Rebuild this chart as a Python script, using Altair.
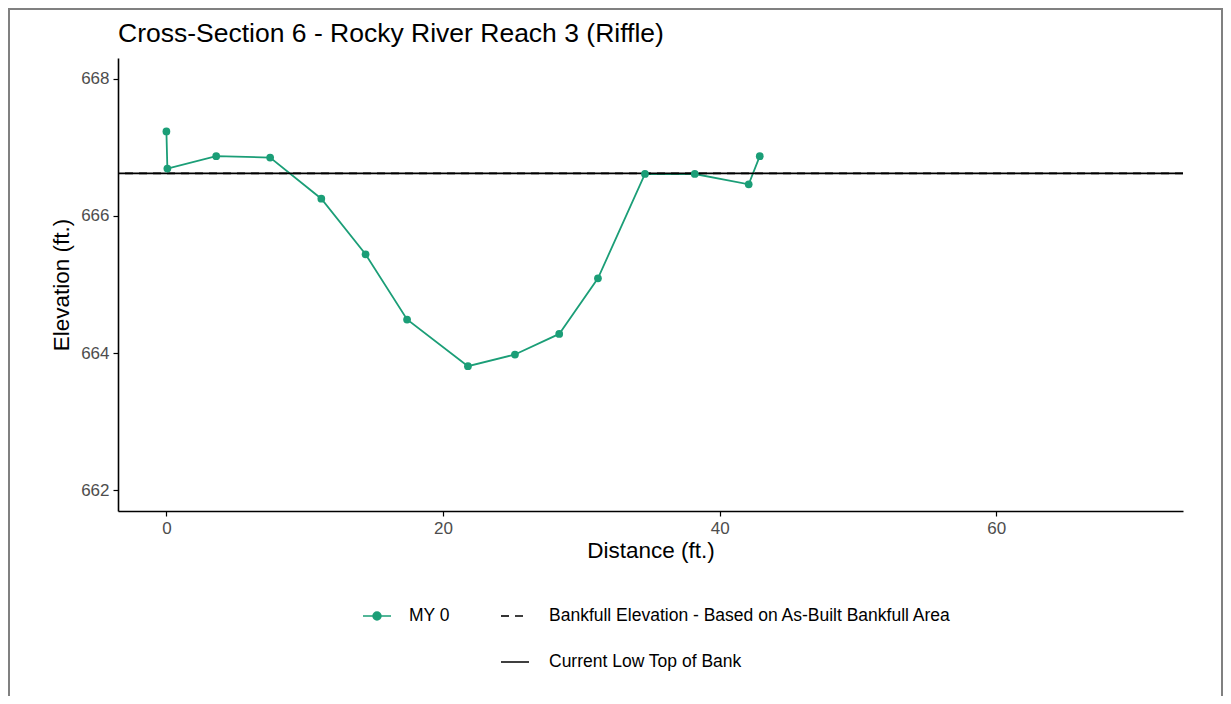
import altair as alt
import pandas as pd

# ---- data ----
distance = [0.0, 0.07, 3.6, 7.5, 11.2, 14.4, 17.4, 21.8, 25.2, 28.4, 31.2, 34.6, 38.2, 42.1, 42.9]
elevation = [667.23, 666.69, 666.87, 666.85, 666.25, 665.44, 664.49, 663.81, 663.98, 664.28,
             665.09, 666.61, 666.61, 666.46, 666.87]
survey = ["MY 0"] * len(distance)

line_types = ["Bankfull Elevation - Based on As-Built Bankfull Area", "Current Low Top of Bank"]
line_elev = [666.62, 666.62]

x_ticks = [0, 20, 40, 60]
y_ticks = [662, 664, 666, 668]

FONT = "Liberation Sans"
GREEN = "#1B9E77"

xs = pd.DataFrame({"distance": distance, "elevation": elevation, "survey": survey,
                   "order": list(range(len(distance)))})
hl = pd.DataFrame({"type": line_types, "elev": line_elev})

x_enc = alt.X("distance:Q", title="Distance (ft.)",
              scale=alt.Scale(domain=[-3.5, 73.5], nice=False, zero=False),
              axis=alt.Axis(values=x_ticks, grid=False, format="d"))
y_enc = alt.Y("elevation:Q", title="Elevation (ft.)",
              scale=alt.Scale(domain=[661.7, 668.3], nice=False, zero=False),
              axis=alt.Axis(values=y_ticks, grid=False, format="d"))

line = alt.Chart(xs).mark_line(color=GREEN, strokeWidth=1.8).encode(
    x=x_enc, y=y_enc, order="order:O")

my0_symbol = "M-1,0L1,0M-0.28,0A0.28,0.28,0,1,1,0.28,0A0.28,0.28,0,1,1,-0.28,0Z"
points = alt.Chart(xs).mark_point(filled=True, size=60, opacity=1).encode(
    x=x_enc, y=y_enc,
    color=alt.Color("survey:N", scale=alt.Scale(domain=["MY 0"], range=[GREEN]),
                    legend=alt.Legend(title=None, orient="none", legendX=244, legendY=543,
                                      symbolType=my0_symbol, symbolSize=784,
                                      symbolStrokeColor=GREEN, symbolFillColor=GREEN,
                                      symbolStrokeWidth=1.6, labelOffset=17, labelLimit=0)))

rules = alt.Chart(hl).mark_rule(color="black", strokeWidth=1.8).encode(
    y=alt.Y("elev:Q", scale=alt.Scale(domain=[661.7, 668.3], nice=False, zero=False)),
    strokeDash=alt.StrokeDash(
        "type:N",
        scale=alt.Scale(domain=line_types, range=[[8, 6], [1, 0]]),
        legend=alt.Legend(title=None, orient="none", legendX=382, legendY=543,
                          symbolType="stroke", symbolSize=784, symbolStrokeColor="black",
                          symbolStrokeWidth=1.6, labelOffset=19, rowPadding=22,
                          labelLimit=0, direction="vertical")))

frame = alt.Chart(pd.DataFrame({"k": [0]})).mark_rect(
    fill="transparent", stroke="#808080", strokeWidth=2).encode(
    x=alt.value(-109), x2=alt.value(1104), y=alt.value(-49), y2=alt.value(662))

chart = alt.layer(frame, line, rules, points).properties(
    width=1065, height=453,
    title=alt.Title("Cross-Section 6 - Rocky River Reach 3 (Riffle)", anchor="start",
                    frame="group", fontSize=26.5, font=FONT, fontWeight="normal",
                    color="black", baseline="alphabetic", offset=0, dy=60),
    autosize=alt.AutoSizeParams(type="none"),
    padding={"left": 110, "top": 50, "right": 40, "bottom": 185},
).configure_view(stroke=None).configure_axis(
    domainColor="black", domainWidth=1.6, tickColor="black", tickWidth=1.2, tickSize=5,
    labelFont=FONT, labelFontSize=17, labelColor="#4D4D4D", labelPadding=4,
    titleFont=FONT, titleFontSize=22.5, titleColor="black", titleFontWeight="normal",
).configure_axisX(titlePadding=3).configure_axisY(titlePadding=7).configure_legend(
    labelFont=FONT, labelFontSize=17.5, labelColor="black", padding=0)

chart.save("out.html", embed_options={"renderer": "svg", "actions": False})
